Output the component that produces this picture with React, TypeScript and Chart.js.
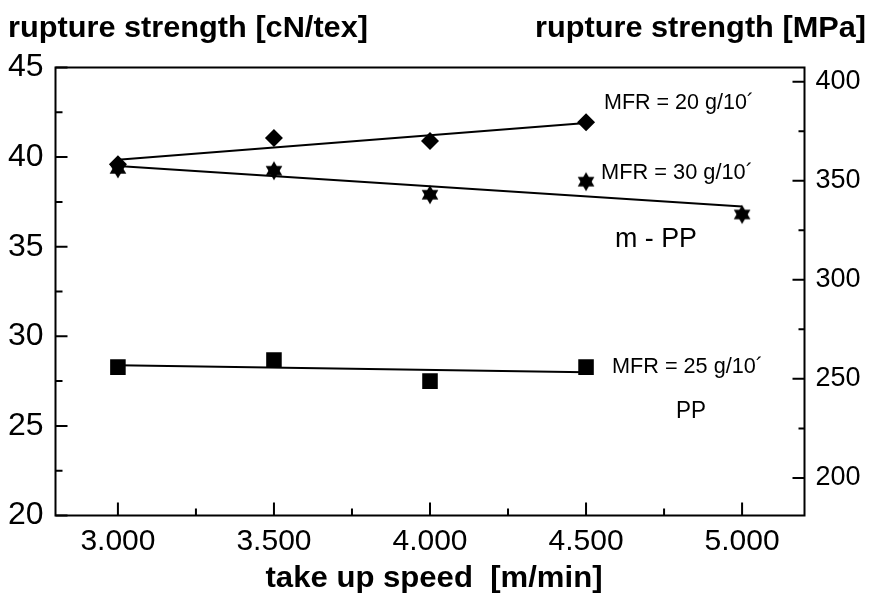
import React, { useEffect, useRef } from 'react';
import { Chart, registerables } from 'chart.js';

Chart.register(...registerables);

// ---- data ----
const speedsMFR20 = [3000, 3500, 4000, 4500];
const strengthMFR20 = [39.6, 41.06, 40.9, 41.94];
const speedsMFR30 = [3000, 3500, 4000, 4500, 5000];
const strengthMFR30 = [39.34, 39.24, 37.9, 38.63, 36.8];
const speedsPP = [3000, 3500, 4000, 4500];
const strengthPP = [28.28, 28.68, 27.5, 28.28];

const fitMFR20X = [3000, 4500];
const fitMFR20Y = [39.85, 41.9];
const fitMFR30X = [3000, 5000];
const fitMFR30Y = [39.5, 37.25];
const fitPPX = [3000, 4500];
const fitPPY = [28.38, 27.99];

const xTicks = [3000, 3500, 4000, 4500, 5000];
const xTickLabels = ['3.000', '3.500', '4.000', '4.500', '5.000'];
const xMinorTicks = [3250, 3750, 4250, 4750];
const yLeftTicks = [20, 25, 30, 35, 40, 45];
const yLeftMinorTicks = [22.5, 27.5, 32.5, 37.5, 42.5];
const yRightTicks = [200, 250, 300, 350, 400];
const yRightMinorTicks = [225, 275, 325, 375];

const X_MIN = 2800;
const X_MAX = 5200;
const Y_MIN = 20;
const Y_MAX = 45;
const Y2_MIN = 181;
const Y2_MAX = 407.25;

const FONT = '"Liberation Sans", Arial, Helvetica, sans-serif';

function makeHexagram(R: number): HTMLCanvasElement {
  const size = Math.ceil(R * 2 + 4);
  const c = document.createElement('canvas');
  c.width = size;
  c.height = size;
  const g = c.getContext('2d')!;
  const cx = size / 2;
  const cy = size / 2;
  g.fillStyle = '#000';
  const tri = (start: number) => {
    g.beginPath();
    for (let i = 0; i < 3; i++) {
      const a = start + (i * 2 * Math.PI) / 3;
      const px = cx + R * Math.cos(a);
      const py = cy + R * Math.sin(a);
      if (i === 0) g.moveTo(px, py);
      else g.lineTo(px, py);
    }
    g.closePath();
    g.fill();
  };
  tri(-Math.PI / 2);
  tri(Math.PI / 2);
  return c;
}

function drawFitText(
  ctx: CanvasRenderingContext2D,
  text: string,
  x: number,
  y: number,
  font: string,
  align: 'left' | 'right' | 'center',
  targetWidth?: number,
  baseline: CanvasTextBaseline = 'middle'
) {
  ctx.save();
  ctx.font = font;
  ctx.fillStyle = '#000';
  ctx.textBaseline = baseline;
  ctx.textAlign = 'left';
  const w = ctx.measureText(text).width;
  const sx = targetWidth ? targetWidth / w : 1;
  const drawnW = w * sx;
  let left = x;
  if (align === 'right') left = x - drawnW;
  if (align === 'center') left = x - drawnW / 2;
  ctx.translate(left, y);
  ctx.scale(sx, 1);
  ctx.fillText(text, 0, 0);
  ctx.restore();
}

const framePlugin = {
  id: 'frameAndText',
  afterDraw(chart: any) {
    const ctx: CanvasRenderingContext2D = chart.ctx;
    const { left, right, top, bottom } = chart.chartArea;
    const xs = chart.scales.x;
    const ys = chart.scales.y;
    const y2 = chart.scales.y2;
    ctx.save();
    ctx.strokeStyle = '#000';
    ctx.lineWidth = 2;
    ctx.strokeRect(left, top, right - left, bottom - top);

    ctx.beginPath();
    const tickH = (scale: any, vals: number[], len: number) => {
      vals.forEach((v) => {
        const p = scale.getPixelForValue(v);
        ctx.moveTo(p, bottom);
        ctx.lineTo(p, bottom - len);
      });
    };
    const tickL = (scale: any, vals: number[], len: number) => {
      vals.forEach((v) => {
        const p = scale.getPixelForValue(v);
        ctx.moveTo(left, p);
        ctx.lineTo(left + len, p);
      });
    };
    const tickR = (scale: any, vals: number[], len: number) => {
      vals.forEach((v) => {
        const p = scale.getPixelForValue(v);
        ctx.moveTo(right, p);
        ctx.lineTo(right - len, p);
      });
    };
    tickH(xs, xTicks, 13);
    tickH(xs, xMinorTicks, 7);
    tickL(ys, yLeftTicks, 12);
    tickL(ys, yLeftMinorTicks, 7);
    tickR(y2, yRightTicks, 12);
    tickR(y2, yRightMinorTicks, 6);
    ctx.stroke();
    ctx.restore();

    // titles
    drawFitText(ctx, 'rupture strength [cN/tex]', 8, 37, `bold 30px ${FONT}`, 'left', 360, 'alphabetic');
    drawFitText(ctx, 'rupture strength [MPa]', 866, 37, `bold 30px ${FONT}`, 'right', 331, 'alphabetic');
    drawFitText(ctx, 'take up speed  [m/min]', 434, 587, `bold 29px ${FONT}`, 'center', 337, 'alphabetic');

    // annotations
    drawFitText(ctx, 'MFR = 20 g/10´', 604, 103, `22px ${FONT}`, 'left', 150);
    drawFitText(ctx, 'MFR = 30 g/10´', 601, 173, `22px ${FONT}`, 'left', 152);
    drawFitText(ctx, 'MFR = 25 g/10´', 612, 367, `22px ${FONT}`, 'left', 151);
    drawFitText(ctx, 'm - PP', 615, 240, `27px ${FONT}`, 'left', 82);
    drawFitText(ctx, 'PP', 676, 412, `23px ${FONT}`, 'left', 30);
  },
};

export default function App() {
  const ref = useRef<HTMLCanvasElement | null>(null);

  useEffect(() => {
    if (!ref.current) return;
    const hexagram = makeHexagram(9.6);
    const pts = (xs: number[], ys: number[]) => xs.map((x, i) => ({ x, y: ys[i] }));

    const chart = new Chart(ref.current, {
      type: 'scatter',
      data: {
        datasets: [
          {
            label: 'MFR = 20 g/10´',
            data: pts(speedsMFR20, strengthMFR20),
            pointStyle: 'rectRot',
            pointRadius: 9,
            backgroundColor: '#000',
            borderColor: '#000',
            borderWidth: 0,
            showLine: false,
          },
          {
            label: 'MFR = 30 g/10´',
            data: pts(speedsMFR30, strengthMFR30),
            pointStyle: hexagram as any,
            pointRadius: 9.6,
            backgroundColor: '#000',
            borderColor: '#000',
            showLine: false,
          },
          {
            label: 'MFR = 25 g/10´',
            data: pts(speedsPP, strengthPP),
            pointStyle: 'rect',
            pointRadius: 11,
            backgroundColor: '#000',
            borderColor: '#000',
            borderWidth: 0,
            showLine: false,
          },
          {
            label: 'fit 20',
            data: pts(fitMFR20X, fitMFR20Y),
            showLine: true,
            pointRadius: 0,
            borderColor: '#000',
            borderWidth: 2,
          },
          {
            label: 'fit 30',
            data: pts(fitMFR30X, fitMFR30Y),
            showLine: true,
            pointRadius: 0,
            borderColor: '#000',
            borderWidth: 2,
          },
          {
            label: 'fit PP',
            data: pts(fitPPX, fitPPY),
            showLine: true,
            pointRadius: 0,
            borderColor: '#000',
            borderWidth: 2,
          },
        ],
      },
      options: {
        responsive: false,
        animation: false,
        layout: { padding: { top: 67.5, left: 0, right: 0, bottom: 0 } },
        plugins: {
          legend: { display: false },
          tooltip: { enabled: false },
        },
        scales: {
          x: {
            type: 'linear',
            min: X_MIN,
            max: X_MAX,
            grid: { display: false, drawTicks: false },
            border: { display: false },
            afterBuildTicks: (s: any) => {
              s.ticks = xTicks.map((v) => ({ value: v }));
            },
            afterFit: (s: any) => {
              s.height = 78.5;
            },
            ticks: {
              padding: 8,
              color: '#000',
              maxRotation: 0,
              font: { family: FONT, size: 30 },
              callback: (v: any) => {
                const i = xTicks.indexOf(Number(v));
                return i >= 0 ? xTickLabels[i] : '';
              },
            },
          },
          y: {
            type: 'linear',
            position: 'left',
            min: Y_MIN,
            max: Y_MAX,
            grid: { display: false, drawTicks: false },
            border: { display: false },
            afterBuildTicks: (s: any) => {
              s.ticks = yLeftTicks.map((v) => ({ value: v }));
            },
            afterFit: (s: any) => {
              s.width = 55.5;
            },
            ticks: {
              padding: 12,
              color: '#000',
              font: { family: FONT, size: 32 },
            },
          },
          y2: {
            type: 'linear',
            position: 'right',
            display: true,
            min: Y2_MIN,
            max: Y2_MAX,
            grid: { display: false, drawTicks: false },
            border: { display: false },
            afterBuildTicks: (s: any) => {
              s.ticks = yRightTicks.map((v) => ({ value: v }));
            },
            afterFit: (s: any) => {
              s.width = 65.5;
            },
            ticks: {
              padding: 11,
              color: '#000',
              font: { family: FONT, size: 27 },
            },
          },
        },
      },
      plugins: [framePlugin],
    });
    return () => chart.destroy();
  }, []);

  return (
    <div style={{ position: 'absolute', left: 0, top: 0, width: 870, height: 594, background: '#fff' }}>
      <canvas ref={ref} width={870} height={594} style={{ display: 'block', width: 870, height: 594 }} />
    </div>
  );
}
